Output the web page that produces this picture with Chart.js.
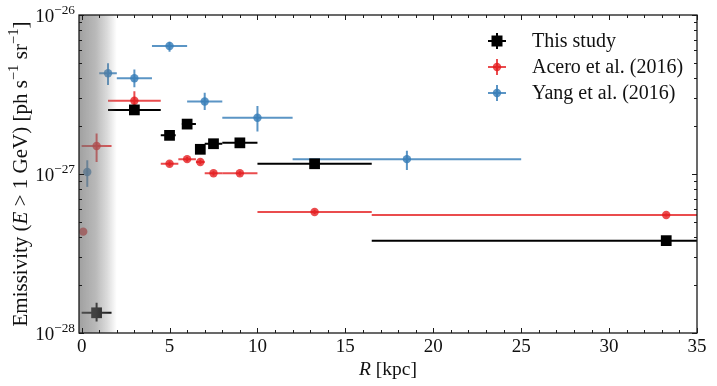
<!DOCTYPE html>
<html>
<head>
<meta charset="utf-8">
<script src="https://cdn.jsdelivr.net/npm/chart.js@4.4.1/dist/chart.umd.min.js"></script>
<style>
  html, body { margin: 0; padding: 0; background: #fff; }
  #wrap { width: 717px; height: 386px; }
</style>
</head>
<body>
<div id="wrap"><canvas id="chart" width="717" height="386"></canvas></div>
<script>
// --- DATA ---
// This study
const rStudy   = [0.85, 3.0, 5.0, 6.0, 6.75, 7.5, 9.0, 13.25, 33.25];
const rStudyLo = [0.0, 1.5, 4.5, 5.7, 6.5, 7.0, 8.0, 10.0, 16.5];
const rStudyHi = [1.7, 4.5, 5.35, 6.5, 7.0, 8.0, 10.0, 16.5, 50.0];
const eStudy   = [1.34e-28, 2.53e-27, 1.75e-27, 2.06e-27, 1.43e-27, 1.55e-27, 1.57e-27, 1.16e-27, 3.81e-28];
const eStudyLo = [1.18e-28, 2.45e-27, 1.70e-27, 2.00e-27, 1.39e-27, 1.51e-27, 1.53e-27, 1.13e-27, 3.72e-28];
const eStudyHi = [1.55e-28, 2.61e-27, 1.80e-27, 2.12e-27, 1.47e-27, 1.59e-27, 1.61e-27, 1.19e-27, 3.90e-28];

// Acero et al. (2016)
const rAcero   = [0.09, 0.85, 3.0, 5.0, 6.0, 6.75, 7.5, 9.0, 13.25, 33.25];
const rAceroLo = [0.09, 0.0, 1.5, 4.5, 5.5, 6.5, 7.0, 8.0, 10.0, 16.5];
const rAceroHi = [0.09, 1.7, 4.5, 5.5, 6.5, 7.0, 8.0, 10.0, 16.5, 50.0];
const eAcero   = [4.34e-28, 1.50e-27, 2.89e-27, 1.16e-27, 1.24e-27, 1.19e-27, 1.01e-27, 1.01e-27, 5.77e-28, 5.52e-28];
const eAceroLo = [4.34e-28, 1.19e-27, 2.55e-27, 1.12e-27, 1.20e-27, 1.15e-27, 0.98e-27, 0.98e-27, 5.60e-28, 5.40e-28];
const eAceroHi = [4.34e-28, 1.80e-27, 3.32e-27, 1.20e-27, 1.28e-27, 1.23e-27, 1.04e-27, 1.04e-27, 5.95e-28, 5.65e-28];

// Yang et al. (2016)
const rYang   = [0.32, 1.5, 3.0, 5.0, 7.0, 10.0, 18.5];
const rYangLo = [0.32, 1.0, 2.0, 4.0, 6.0, 8.0, 12.0];
const rYangHi = [0.32, 2.0, 4.0, 6.0, 8.0, 12.0, 25.0];
const eYang   = [1.03e-27, 4.30e-27, 4.00e-27, 6.38e-27, 2.86e-27, 2.26e-27, 1.24e-27];
const eYangLo = [0.83e-27, 3.63e-27, 3.51e-27, 5.87e-27, 2.53e-27, 1.85e-27, 1.06e-27];
const eYangHi = [1.22e-27, 4.97e-27, 4.55e-27, 6.79e-27, 3.24e-27, 2.68e-27, 1.40e-27];

// axes
const xTicks = [0, 5, 10, 15, 20, 25, 30, 35];
const yTicks = [1e-28, 1e-27, 1e-26];
const yTickExp = ['−28', '−27', '−26'];
const xMin = -0.15, xMax = 35;
const yMin = 1e-28, yMax = 1e-26;
const shadeEnd = 2.0; // kpc, end of the grey band

const FONT = '"Liberation Serif", "DejaVu Serif", serif';
const BLACK = '#000000';
const RED = 'rgba(228,26,28,0.78)';
const BLUE = 'rgba(55,126,184,0.82)';

function pts(xs, ys) {
    return xs.map((x, i) => ({ x: x, y: ys[i] }));
}

// --- TEXT HELPERS ---
function runWidth(ctx, runs, size) {
    let w = 0;
    runs.forEach(r => {
        ctx.font = (r.it ? 'italic ' : '') + (r.sup ? size * 0.7 : size) + 'px ' + FONT;
        w += ctx.measureText(r.t).width;
    });
    return w;
}

function drawRuns(ctx, runs, x, y, size) {
    ctx.textAlign = 'left';
    ctx.textBaseline = 'alphabetic';
    runs.forEach(r => {
        ctx.font = (r.it ? 'italic ' : '') + (r.sup ? size * 0.7 : size) + 'px ' + FONT;
        ctx.fillText(r.t, x, r.sup ? y - size * 0.42 : y);
        x += ctx.measureText(r.t).width;
    });
}

// --- PLUGINS ---
const errorBars = {
    id: 'errorBars',
    beforeDatasetsDraw(chart) {
        const { ctx, chartArea: a, scales: { x, y } } = chart;
        ctx.save();
        ctx.beginPath();
        ctx.rect(a.left, a.top, a.right - a.left, a.bottom - a.top);
        ctx.clip();
        chart.data.datasets.slice().reverse().forEach(ds => {
            ctx.strokeStyle = ds.backgroundColor;
            ctx.lineWidth = ds.errWidth;
            ds.data.forEach((p, i) => {
                const px = x.getPixelForValue(p.x);
                const py = y.getPixelForValue(p.y);
                ctx.beginPath();
                ctx.moveTo(x.getPixelForValue(ds.xLo[i]), py);
                ctx.lineTo(x.getPixelForValue(ds.xHi[i]), py);
                ctx.moveTo(px, y.getPixelForValue(ds.yLo[i]));
                ctx.lineTo(px, y.getPixelForValue(ds.yHi[i]));
                ctx.stroke();
            });
        });
        ctx.restore();
    }
};

const frame = {
    id: 'frame',
    afterDatasetsDraw(chart) {
        const { ctx, chartArea: a, scales: { x, y } } = chart;
        ctx.save();

        // grey band near the Galactic centre
        const x1 = x.getPixelForValue(shadeEnd);
        const g = ctx.createLinearGradient(a.left, 0, x1, 0);
        g.addColorStop(0, 'rgba(115,115,115,0.68)');
        g.addColorStop(0.45, 'rgba(122,122,122,0.52)');
        g.addColorStop(0.75, 'rgba(128,128,128,0.28)');
        g.addColorStop(1, 'rgba(128,128,128,0)');
        ctx.fillStyle = g;
        ctx.fillRect(a.left, a.top, x1 - a.left, a.bottom - a.top);

        // box
        ctx.strokeStyle = '#1a1a1a';
        ctx.lineWidth = 1.3;
        ctx.strokeRect(a.left, a.top, a.right - a.left, a.bottom - a.top);

        // x ticks (in, top and bottom)
        ctx.lineWidth = 1;
        ctx.beginPath();
        for (let v = 0; v <= xMax; v += 1) {
            const px = Math.round(x.getPixelForValue(v)) + 0.5;
            const len = v % 5 === 0 ? 5 : 3;
            ctx.moveTo(px, a.bottom); ctx.lineTo(px, a.bottom - len);
            ctx.moveTo(px, a.top); ctx.lineTo(px, a.top + len);
        }
        // y ticks (in, left and right)
        for (let e = -28; e <= -26; e++) {
            for (let k = 1; k <= 9; k++) {
                const v = k * Math.pow(10, e);
                if (v > yMax * 1.0001) break;
                const py = Math.round(y.getPixelForValue(v)) + 0.5;
                const len = k === 1 ? 5 : 3;
                ctx.moveTo(a.left, py); ctx.lineTo(a.left + len, py);
                ctx.moveTo(a.right, py); ctx.lineTo(a.right - len, py);
            }
        }
        ctx.stroke();

        // tick labels
        ctx.fillStyle = '#111';
        ctx.font = '19px ' + FONT;
        ctx.textAlign = 'center';
        ctx.textBaseline = 'alphabetic';
        xTicks.forEach(v => ctx.fillText(String(v), x.getPixelForValue(v), a.bottom + 19));
        yTicks.forEach((v, i) => {
            const runs = [{ t: '10' }, { t: yTickExp[i], sup: true }];
            const w = runWidth(ctx, runs, 19);
            drawRuns(ctx, runs, a.left - 4 - w, y.getPixelForValue(v) + 7, 19);
        });

        // axis titles
        const xt = [{ t: 'R', it: true }, { t: ' [kpc]' }];
        drawRuns(ctx, xt, (a.left + a.right) / 2 - runWidth(ctx, xt, 19.5) / 2, 375, 19.5);

        const yt = [{ t: 'Emissivity (' }, { t: 'E', it: true }, { t: ' > 1 GeV) [ph s' },
                    { t: '−1', sup: true }, { t: ' sr' }, { t: '−1', sup: true }, { t: ']' }];
        ctx.translate(27, (a.top + a.bottom) / 2);
        ctx.rotate(-Math.PI / 2);
        drawRuns(ctx, yt, -runWidth(ctx, yt, 21) / 2, 0, 21);
        ctx.setTransform(1, 0, 0, 1, 0, 0);

        // legend
        const rows = [
            { label: 'This study', color: BLACK, sq: true },
            { label: 'Acero et al. (2016)', color: RED },
            { label: 'Yang et al. (2016)', color: BLUE }
        ];
        rows.forEach((r, i) => {
            const cy = 41 + i * 26;
            const cx = 497;
            ctx.strokeStyle = r.color;
            ctx.fillStyle = r.color;
            ctx.lineWidth = 2;
            ctx.beginPath();
            ctx.moveTo(cx - 9, cy); ctx.lineTo(cx + 9, cy);
            ctx.moveTo(cx, cy - 8); ctx.lineTo(cx, cy + 8);
            ctx.stroke();
            ctx.beginPath();
            if (r.sq) ctx.rect(cx - 5.5, cy - 5.5, 11, 11);
            else ctx.arc(cx, cy, 4.2, 0, Math.PI * 2);
            ctx.fill();
            ctx.fillStyle = '#111';
            ctx.font = '20px ' + FONT;
            ctx.textAlign = 'left';
            ctx.textBaseline = 'middle';
            ctx.fillText(r.label, 532, cy + 1);
        });

        ctx.restore();
    }
};

// --- CHART ---
const ctx = document.getElementById('chart').getContext('2d');
new Chart(ctx, {
    type: 'scatter',
    data: {
        datasets: [
            {
                label: 'This study',
                data: pts(rStudy, eStudy),
                xLo: rStudyLo, xHi: rStudyHi, yLo: eStudyLo, yHi: eStudyHi,
                errWidth: 2,
                backgroundColor: BLACK,
                borderWidth: 0,
                pointStyle: 'rect',
                pointRadius: 7.6,
                pointHoverRadius: 7.6
            },
            {
                label: 'Acero et al. (2016)',
                data: pts(rAcero, eAcero),
                xLo: rAceroLo, xHi: rAceroHi, yLo: eAceroLo, yHi: eAceroHi,
                errWidth: 2,
                backgroundColor: RED,
                borderWidth: 0,
                pointStyle: 'circle',
                pointRadius: 4.2,
                pointHoverRadius: 4.2
            },
            {
                label: 'Yang et al. (2016)',
                data: pts(rYang, eYang),
                xLo: rYangLo, xHi: rYangHi, yLo: eYangLo, yHi: eYangHi,
                errWidth: 2,
                backgroundColor: BLUE,
                borderWidth: 0,
                pointStyle: 'circle',
                pointRadius: 4.2,
                pointHoverRadius: 4.2
            }
        ]
    },
    options: {
        responsive: false,
        animation: false,
        devicePixelRatio: 1,
        layout: { padding: { left: 79, right: 20, top: 15, bottom: 53 } },
        plugins: { legend: { display: false }, tooltip: { enabled: false } },
        scales: {
            x: { type: 'linear', min: xMin, max: xMax, display: false },
            y: { type: 'logarithmic', min: yMin, max: yMax, display: false }
        }
    },
    plugins: [errorBars, frame]
});
</script>
</body>
</html>
